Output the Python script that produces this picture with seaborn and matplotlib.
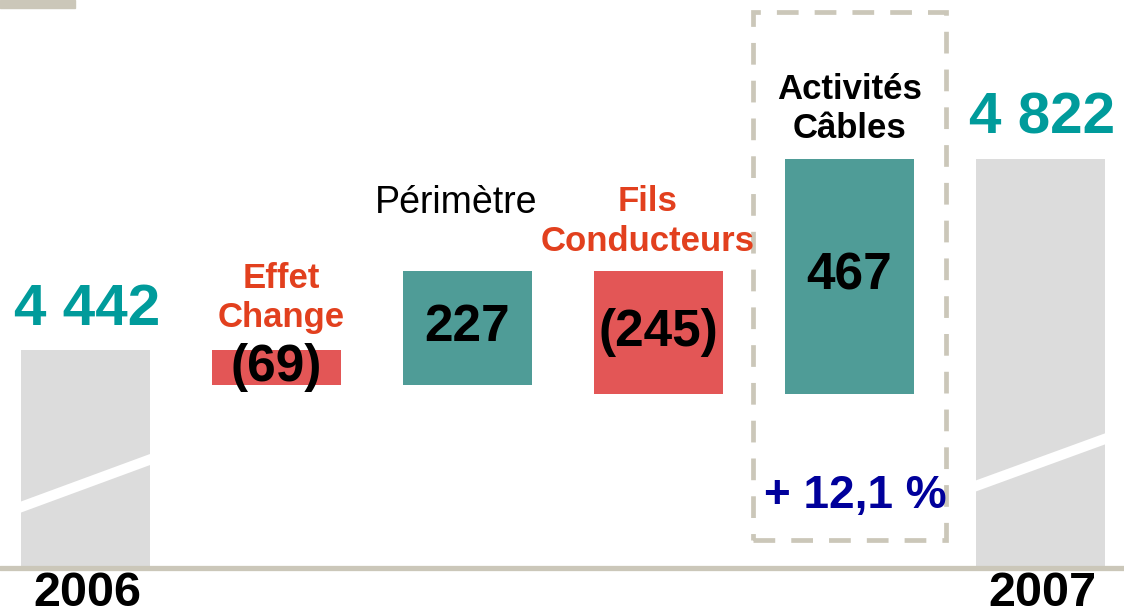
import matplotlib
matplotlib.use("Agg")
import matplotlib.pyplot as plt
import matplotlib.transforms as mtransforms
from matplotlib.patches import Rectangle
import numpy as np
import pandas as pd
import seaborn as sns

# data: waterfall 2006 -> 2007 (in M EUR)
steps = ["2006", "Effet Change", "Périmètre", "Fils Conducteurs", "Activités Câbles", "2007"]
step_labels = ["", "Effet\nChange", "Périmètre", "Fils\nConducteurs", "Activités\nCâbles", ""]
values = [4442, -69, 227, -245, 467, 4822]
value_texts = ["4 442", "(69)", "227", "(245)", "467", "4 822"]
is_total = [True, False, False, False, False, True]
growth_text = "+ 12,1 %"

# colours
GREY_BAR = "#dcdcdc"
TEAL_BAR = "#4f9c97"
RED_BAR = "#e35656"
TEAL_TXT = "#009b9b"
RED_TXT = "#e2401e"
NAVY = "#00009b"
BEIGE = "#cbc7b9"

# broken axis: bars start at this level, one unit = 0.503 px
Y_BASE = 4010
Y_MIN, Y_MAX = 3915, 5138
X_MIN, X_MAX = -0.448, 5.437
BAR_W = 0.675

# compute waterfall bottoms / heights
bottoms, heights, colors = [], [], []
run = 0
for v, tot in zip(values, is_total):
    if tot:
        bottoms.append(Y_BASE)
        heights.append(v - Y_BASE)
        colors.append(GREY_BAR)
        run = v
    else:
        new = run + v
        bottoms.append(min(run, new))
        heights.append(abs(v))
        colors.append(TEAL_BAR if v > 0 else RED_BAR)
        run = new

df = pd.DataFrame({"etape": steps, "hauteur": heights})

sns.set_style("white")
plt.rcParams["font.family"] = ["Liberation Sans", "DejaVu Sans"]

fig = plt.figure(figsize=(11.24, 6.15), dpi=100)
ax = fig.add_axes([0, 0, 1, 1])

sns.barplot(data=df, x="etape", y="hauteur", bottom=bottoms, width=BAR_W,
            color=GREY_BAR, saturation=1, errorbar=None, ax=ax, linewidth=0)
for patch, c in zip(ax.patches, colors):
    patch.set_facecolor(c)

ax.set_xlim(X_MIN, X_MAX)
ax.set_ylim(Y_MIN, Y_MAX)
ax.axis("off")

# white break on total bars (offsets above base, left/right)
breaks = {0: (121, 213), 5: (163, 254)}
band = 22
for i, (yl, yr) in breaks.items():
    xl, xr = i - BAR_W / 2 - 0.02, i + BAR_W / 2 + 0.02
    ax.fill([xl, xr, xr, xl], [Y_BASE + yl - band / 2 - 4, Y_BASE + yr - band / 2 + 4,
                               Y_BASE + yr + band / 2 + 4, Y_BASE + yl + band / 2 - 4],
            color="white", lw=0, zorder=3)

# base line
ax.axhline(Y_BASE - 1, color=BEIGE, lw=3.8, zorder=4)

# labels
px = 0.72  # points per pixel
label_dy = [0, 52, 68, 49, 50, 0]
label_dx = [0, 5, -11, -11, 0, 0]
for i, (lab, txt, tot) in enumerate(zip(step_labels, value_texts, is_total)):
    top = bottoms[i] + heights[i]
    if tot:
        ax.annotate(txt, (i, top), xytext=(2 * px, 40 * px), textcoords="offset points",
                    ha="center", va="center", fontsize=42, fontweight="bold", color=TEAL_TXT)
        ax.annotate(steps[i], (i, Y_BASE), xytext=(2 * px, -26 * px), textcoords="offset points",
                    ha="center", va="center", fontsize=35, fontweight="bold", color="black")
    else:
        mid = bottoms[i] + heights[i] / 2
        ax.text(i, mid, txt, ha="center", va="center", fontsize=37,
                fontweight="bold", color="black", zorder=5)
        if lab == "Périmètre":
            kw = dict(fontsize=27, fontweight="normal", color="black")
        elif values[i] < 0:
            kw = dict(fontsize=25, fontweight="bold", color=RED_TXT)
        else:
            kw = dict(fontsize=25, fontweight="bold", color="black")
        ax.annotate(lab, (i, top), xytext=(label_dx[i] * px, label_dy[i] * px),
                    textcoords="offset points", ha="center", va="center",
                    linespacing=1.24, **kw)

# dashed frame around "Activités Câbles"
trans = mtransforms.blended_transform_factory(ax.transData, ax.transAxes)
frame = Rectangle((4 - 0.5075, 1 - 540 / 615), 1.015, (540 - 12) / 615, transform=trans,
                  fill=False, edgecolor=BEIGE, lw=3.4, linestyle=(0, (4.6, 3.4)),
                  clip_on=False, zorder=2)
ax.add_patch(frame)
ax.text(4 + 0.03, 1 - 496 / 615, growth_text, transform=trans, ha="center", va="center",
        fontsize=33, fontweight="bold", color=NAVY)

# small grey tab top-left
fig.patches.append(Rectangle((0, 1 - 8 / 615), 75 / 1124, 8 / 615,
                             transform=fig.transFigure, color=BEIGE))

fig.savefig("out.png", dpi=100)
